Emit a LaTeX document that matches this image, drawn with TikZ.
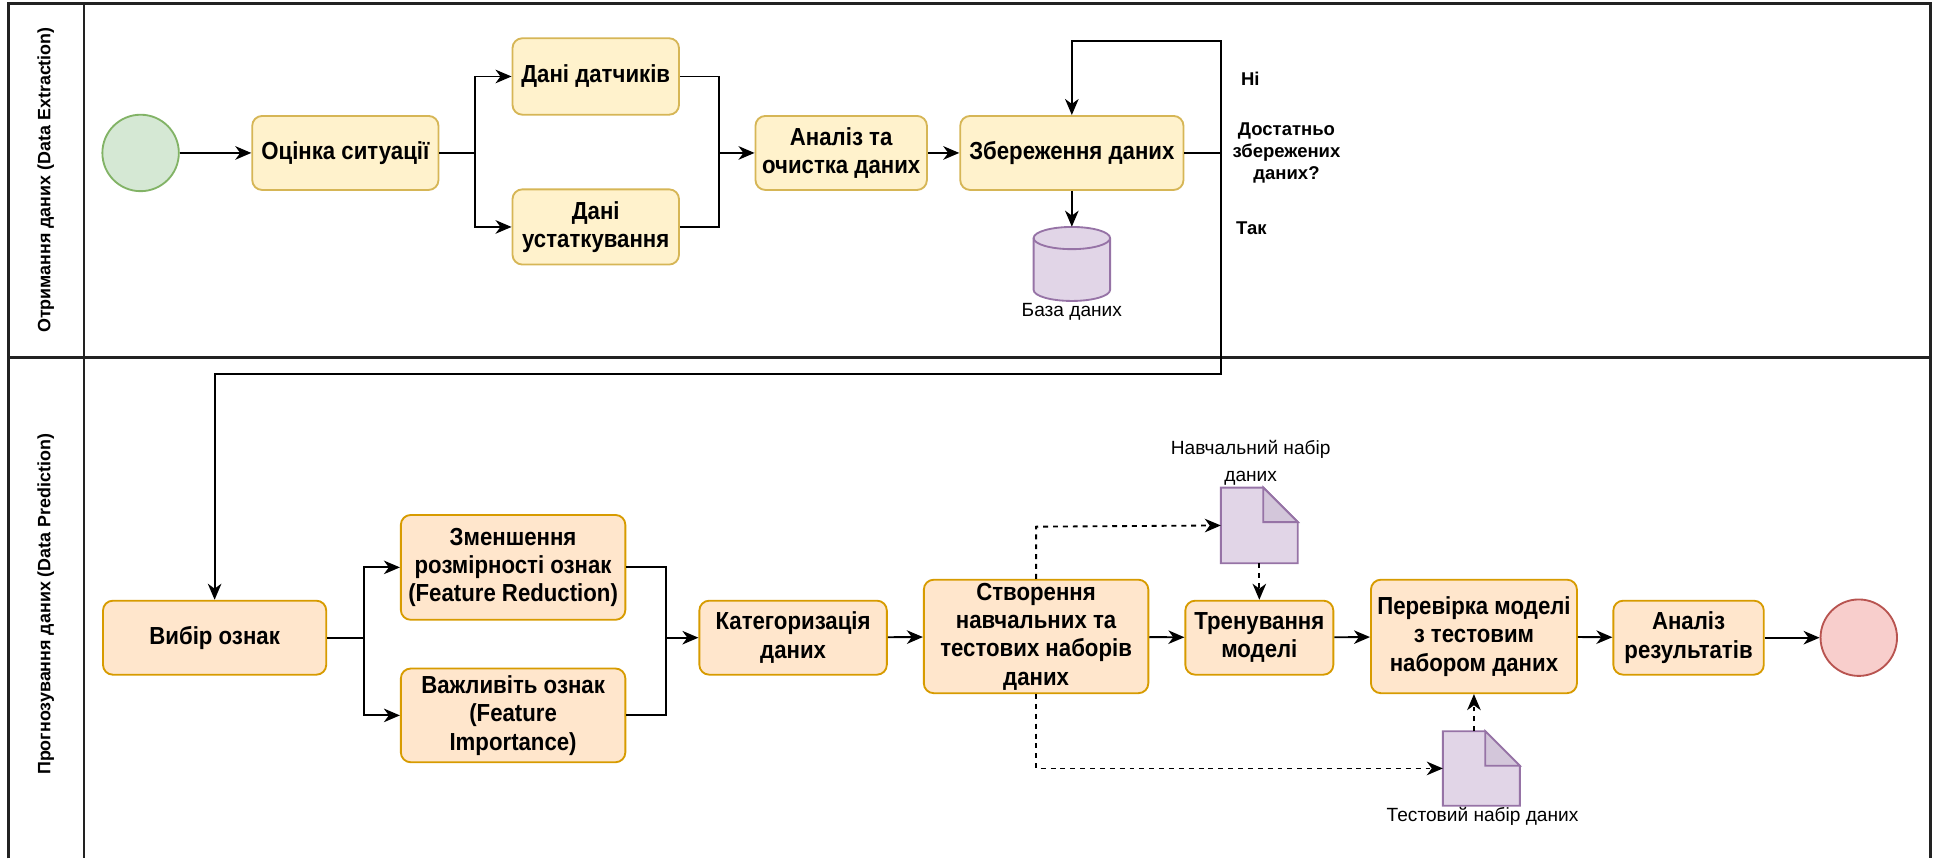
\documentclass[tikz,border=0pt]{standalone}
\usepackage{fontspec}
\setmainfont{Liberation Sans}
\newfontfamily\narrowfont[FakeStretch=0.9]{Liberation Sans}
\usetikzlibrary{arrows.meta}

\definecolor{taskAFill}{HTML}{FFF2CC}
\definecolor{taskADraw}{HTML}{D6B656}
\definecolor{taskBFill}{HTML}{FFE6CC}
\definecolor{taskBDraw}{HTML}{D79B00}
\definecolor{dataFill}{HTML}{E1D5E7}
\definecolor{dataFold}{HTML}{D3C6DA}
\definecolor{dataDraw}{HTML}{9673A6}
\definecolor{startFill}{HTML}{D5E8D4}
\definecolor{startDraw}{HTML}{82B366}
\definecolor{endFill}{HTML}{F8CECC}
\definecolor{endDraw}{HTML}{B85450}
\definecolor{frameLine}{HTML}{222222}

\begin{document}
\begin{tikzpicture}[x=1pt,y=-1pt,
  taskbase/.style={rounded corners=8pt, line width=1.5pt, align=center,
    inner sep=0pt, font=\narrowfont\bfseries\fontsize{20}{23}\selectfont},
  taskA/.style={taskbase, draw=taskADraw, fill=taskAFill},
  taskB/.style={taskbase, draw=taskBDraw, fill=taskBFill},
  ghost/.style={inner sep=0pt},
  flow/.style={line width=1.5pt, draw=black, -{Stealth[length=13pt,width=11pt,inset=4pt]}},
  plain/.style={line width=1.5pt, draw=black},
  dflow/.style={flow, dash pattern=on 4pt off 4pt},
  note/.style={font=\fontsize{15.5}{18.6}\selectfont, align=center, inner sep=0pt},
  decision/.style={font=\bfseries\fontsize{15}{18}\selectfont, align=center, inner sep=0pt},
  lanetitle/.style={font=\bfseries\fontsize{14.5}{17}\selectfont, rotate=90, inner sep=0pt},
  frame/.style={line width=2pt, draw=frameLine}
]
\useasboundingbox (0,0) rectangle (1568,696);

% pool and lanes
\draw[frame] (7,696) -- (7,3) -- (1565,3) -- (1565,696);
\draw[frame] (68,3) -- (68,696);
\draw[frame] (7,290) -- (1565,290);
\node[lanetitle] (laneA) at (37,146) {Отримання даних (Data Extraction)};
\node[lanetitle] (laneB) at (37,490) {Прогнозування даних (Data Prediction)};

% ---- lane 1: data extraction
\node[circle, minimum size=62pt, fill=startFill, draw=startDraw, line width=1.5pt] (start) at (114,124) {};
\node[taskA, minimum width=151pt, minimum height=60pt] (o1) at (280,124) {Оцінка ситуації};
\node[taskA, minimum width=135pt, minimum height=62pt] (d1) at (483,62) {Дані датчиків};
\node[taskA, minimum width=135pt, minimum height=61pt] (d2) at (483,184) {Дані\\устаткування};
\node[taskA, minimum width=139pt, minimum height=60pt] (an) at (682,124) {Аналіз та\\очистка даних};
\node[taskA, minimum width=181pt, minimum height=60pt] (zb) at (869,124) {Збереження даних};

% database cylinder
\node[ghost, minimum width=62pt, minimum height=60pt] (db) at (869,214) {};
\filldraw[fill=dataFill, draw=dataDraw, line width=1.5pt]
  (838,193) -- (838,235) arc[start angle=180, end angle=0, x radius=31, y radius=9]
  -- (900,193) arc[start angle=0, end angle=-180, x radius=31, y radius=9] -- cycle;
\draw[draw=dataDraw, line width=1.5pt] (838,193) arc[start angle=180, end angle=0, x radius=31, y radius=9];
\node[note] (dblabel) at (869,253) {База даних};

\draw[flow] (start) -- (o1);
\draw[plain] (o1.east) -- (385,124);
\draw[flow] (385,124) |- (d1.west);
\draw[flow] (385,124) |- (d2.west);
\draw[plain] (d1.east) -| (583,124);
\draw[plain] (d2.east) -| (583,124);
\draw[flow] (583,124) -- (an.west);
\draw[flow] (an) -- (zb);
\draw[flow] (zb.south) -- (db.north);

% ---- lane 2: data prediction
\node[taskB, minimum width=181pt, minimum height=60pt] (vb) at (174,517) {Вибір ознак};
\node[taskB, minimum width=182pt, minimum height=85pt] (zm) at (416,460) {Зменшення\\розмірності ознак\\(Feature Reduction)};
\node[taskB, minimum width=182pt, minimum height=76pt] (vz) at (416,580) {Важливіть ознак\\(Feature\\Importance)};
\node[taskB, minimum width=152pt, minimum height=60pt] (kat) at (643,517) {Категоризація\\даних};
\node[taskB, minimum width=182pt, minimum height=92pt] (st) at (840,516) {Створення\\навчальних та\\тестових наборів\\даних};
\node[taskB, minimum width=120pt, minimum height=60pt] (tr) at (1021,517) {Тренування\\моделі};
\node[taskB, minimum width=167pt, minimum height=92pt] (pv) at (1195,516) {Перевірка моделі\\з тестовим\\набором даних};
\node[taskB, minimum width=122pt, minimum height=60pt] (ar) at (1369,517) {Аналіз\\результатів};
\node[circle, minimum size=62pt, fill=endFill, draw=endDraw, line width=1.5pt] (end) at (1507,517) {};

% decision loop between the lanes
\draw[plain] (zb.east) -- (990,124);
\draw[flow] (990,124) -- (990,33) -| (zb.north);
\draw[flow] (990,124) -- (990,303) -| (vb.north);
\node[decision, anchor=west] (no) at (1006,64) {Ні};
\node[decision] (ask) at (1043,124) {Достатньо\\збережених\\даних?};
\node[decision, anchor=west] (yes) at (1002,185) {Так};

% data sets (documents with folded corner)
\node[ghost, minimum width=62pt, minimum height=61pt] (doc1) at (1021,426) {};
\node[ghost, minimum width=62pt, minimum height=60pt] (doc2) at (1201,623) {};
\foreach \d in {doc1,doc2}{
  \filldraw[fill=dataFill, draw=dataDraw, line width=1.5pt]
    (\d.north west) -- ([xshift=-28pt]\d.north east) -- ([yshift=-28pt]\d.north east)
    -- (\d.south east) -- (\d.south west) -- cycle;
  \filldraw[fill=dataFold, draw=dataDraw, line width=1.5pt]
    ([xshift=-28pt]\d.north east) -- ([xshift=-28pt,yshift=-28pt]\d.north east)
    -- ([yshift=-28pt]\d.north east) -- cycle;
}
\node[note, align=center] (doc1label) at (1014,375) {Навчальний набір\\[3.5pt]даних};
\node[note] (doc2label) at (1202,662) {Тестовий набір даних};

\draw[plain] (vb.east) -- (295,517);
\draw[flow] (295,517) |- (zm.west);
\draw[flow] (295,517) |- (vz.west);
\draw[plain] (zm.east) -| (540,517);
\draw[plain] (vz.east) -| (540,517);
\draw[flow] (540,517) -- (kat.west);
\draw[flow] (kat) -- (st);
\draw[flow] (st) -- (tr);
\draw[flow] (tr) -- (pv);
\draw[flow] (pv) -- (ar);
\draw[flow] (ar) -- (end);

\draw[dflow] (st.north) -- (840,427) -- (doc1.west);
\draw[dflow] (doc1.south) -- (tr.north);
\draw[dflow] (st.south) -- (840,623) -- (doc2.west);
\draw[dflow] (pv.south |- doc2.north) -- (pv.south);
\end{tikzpicture}
\end{document}
